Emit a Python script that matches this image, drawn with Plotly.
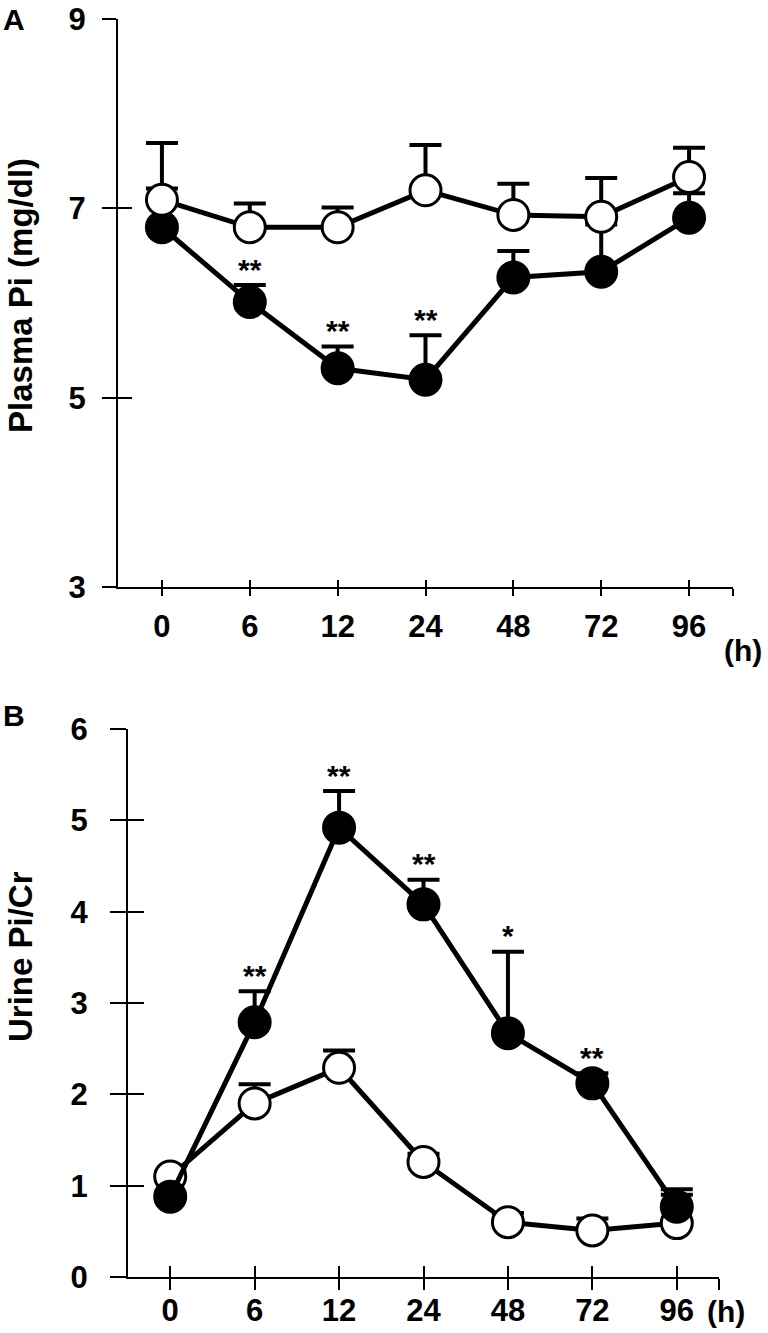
import plotly.graph_objects as go

# ---------------- data ----------------
hours = ["0", "6", "12", "24", "48", "72", "96"]

# Panel A: Plasma Pi (mg/dl)
A_open_mean = [7.09, 6.80, 6.80, 7.19, 6.93, 6.91, 7.33]
A_open_err = [0.60, 0.25, 0.21, 0.48, 0.33, 0.41, 0.31]
A_closed_mean = [6.80, 6.01, 5.31, 5.19, 6.27, 6.33, 6.90]
A_closed_err = [0.41, 0.18, 0.23, 0.47, 0.28, 0.50, 0.26]
A_closed_sig = ["", "**", "**", "**", "", "", ""]

# Panel B: Urine Pi/Cr
B_open_mean = [1.10, 1.90, 2.29, 1.26, 0.60, 0.51, 0.59]
B_open_err = [0.05, 0.21, 0.19, 0.09, 0.10, 0.13, 0.31]
B_closed_mean = [0.88, 2.79, 4.92, 4.08, 2.67, 2.12, 0.77]
B_closed_err = [0.05, 0.34, 0.40, 0.27, 0.89, 0.11, 0.19]
B_closed_sig = ["", "**", "**", "**", "*", "**", ""]

A_yticks = [3, 5, 7, 9]
B_yticks = [0, 1, 2, 3, 4, 5, 6]

# ---------------- styling ----------------
FONT = "Liberation Sans, Arial, Helvetica, sans-serif"
W, H = 768, 1333
xpos = list(range(len(hours)))
xtickvals = xpos + [len(hours) - 0.5]
xticktext = hours + [""]
MS = 31
LW = 5


def px_x(p):
    return p / W


def px_y(p):
    return 1 - p / H


fig = go.Figure()


def add_series(mean, err, filled, xa, ya):
    fig.add_trace(go.Scatter(
        x=xpos, y=mean, mode="lines+markers",
        xaxis=xa, yaxis=ya,
        line=dict(color="black", width=LW),
        marker=dict(size=MS, symbol="circle",
                    color="black" if filled else "white",
                    line=dict(color="black", width=3)),
        error_y=dict(type="data", symmetric=False, array=err,
                     arrayminus=[0] * len(err), color="black",
                     thickness=4, width=16),
        showlegend=False, hoverinfo="skip",
    ))


# Panel A: closed drawn first, open on top
add_series(A_closed_mean, A_closed_err, True, "x", "y")
add_series(A_open_mean, A_open_err, False, "x", "y")
# Panel B: open first, closed on top
add_series(B_open_mean, B_open_err, False, "x2", "y2")
add_series(B_closed_mean, B_closed_err, True, "x2", "y2")

# dummy traces for overlay axes (second tick direction -> crossing ticks)
fig.add_trace(go.Scatter(x=[None], y=[None], xaxis="x3", yaxis="y3",
                         showlegend=False, hoverinfo="skip"))
fig.add_trace(go.Scatter(x=[None], y=[None], xaxis="x4", yaxis="y4",
                         showlegend=False, hoverinfo="skip"))

tickfont = dict(family=FONT, size=31, color="black", weight="bold")

A_xdom = [px_x(118), px_x(733)]
A_ydom = [px_y(587), px_y(19)]
B_xdom = [px_x(128), px_x(719)]
B_ydom = [px_y(1277), px_y(729)]

xr = [-0.5, len(hours) - 0.5]
common_x = dict(range=xr, tickmode="array", automargin=False,
                tickvals=xtickvals, showgrid=False, zeroline=False,
                showline=True, linecolor="black", linewidth=2,
                tickcolor="black", tickwidth=2, ticklabeloverflow="allow")
common_y = dict(tickmode="array", showgrid=False, zeroline=False,
                automargin=False, ticklabeloverflow="allow",
                showline=True, linecolor="black", linewidth=2,
                tickcolor="black", tickwidth=2)

fig.update_layout(
    template="none",
    width=W, height=H, autosize=False,
    margin=dict(l=0, r=0, t=0, b=0, pad=0),
    paper_bgcolor="white", plot_bgcolor="white",
    # panel A
    xaxis=dict(domain=A_xdom, anchor="y", ticks="inside", ticklen=7,
               ticktext=xticktext, tickfont=tickfont,
               ticklabelstandoff=11, **common_x),
    yaxis=dict(domain=A_ydom, anchor="x", range=[3, 9], tickvals=A_yticks,
               ticks="outside", ticklen=14, tickfont=tickfont,
               ticklabelstandoff=10, **common_y),
    xaxis3=dict(overlaying="x", anchor="y", ticks="outside", ticklen=7,
                showticklabels=False, **common_x),
    yaxis3=dict(overlaying="y", anchor="x", range=[3, 9], tickvals=A_yticks,
                ticks="inside", ticklen=14, showticklabels=False, **common_y),
    # panel B
    xaxis2=dict(domain=B_xdom, anchor="y2", ticks="inside", ticklen=11,
                ticktext=xticktext, tickfont=tickfont,
                ticklabelstandoff=5, **common_x),
    yaxis2=dict(domain=B_ydom, anchor="x2", range=[0, 6], tickvals=B_yticks,
                ticks="outside", ticklen=16, tickfont=tickfont,
                ticklabelstandoff=16, **common_y),
    xaxis4=dict(overlaying="x2", anchor="y2", ticks="outside", ticklen=11,
                showticklabels=False, **common_x),
    yaxis4=dict(overlaying="y2", anchor="x2", range=[0, 6], tickvals=B_yticks,
                ticks="inside", ticklen=16, showticklabels=False, **common_y),
)

ann = []
star_font = dict(family=FONT, size=30, color="black", weight="bold")
for i, s in enumerate(A_closed_sig):
    if s:
        ann.append(dict(x=i, y=A_closed_mean[i] + A_closed_err[i], xref="x",
                        yref="y", text=s, showarrow=False, yanchor="middle",
                        yshift=16, font=star_font))
for i, s in enumerate(B_closed_sig):
    if s:
        ann.append(dict(x=i, y=B_closed_mean[i] + B_closed_err[i], xref="x2",
                        yref="y2", text=s, showarrow=False, yanchor="middle",
                        yshift=16, font=star_font))

lab_font = dict(family=FONT, size=30, color="black", weight="bold")
title_font = dict(family=FONT, size=33, color="black", weight="bold")
ann += [
    dict(x=px_x(14), y=px_y(19), xref="paper", yref="paper", text="A",
         showarrow=False, font=lab_font, xanchor="center", yanchor="middle"),
    dict(x=px_x(14), y=px_y(715), xref="paper", yref="paper", text="B",
         showarrow=False, font=lab_font, xanchor="center", yanchor="middle"),
    dict(x=px_x(20), y=px_y(296), xref="paper", yref="paper",
         text="Plasma Pi (mg/dl)", textangle=-90, showarrow=False,
         font=title_font, xanchor="center", yanchor="middle"),
    dict(x=px_x(20), y=px_y(957), xref="paper", yref="paper",
         text="Urine Pi/Cr", textangle=-90, showarrow=False,
         font=title_font, xanchor="center", yanchor="middle"),
    dict(x=px_x(743), y=px_y(650), xref="paper", yref="paper", text="(h)",
         showarrow=False, font=lab_font, xanchor="center", yanchor="middle"),
    dict(x=px_x(726), y=px_y(1311), xref="paper", yref="paper", text="(h)",
         showarrow=False, font=lab_font, xanchor="center", yanchor="middle"),
]
fig.update_layout(annotations=ann)

# remove the browser's default 8px body margin so the figure fills the page
fig.write_html("out.html",
               config={"displayModeBar": False, "staticPlot": True},
               post_script="document.body.style.margin='0px';"
                           "document.body.style.overflow='hidden';")
